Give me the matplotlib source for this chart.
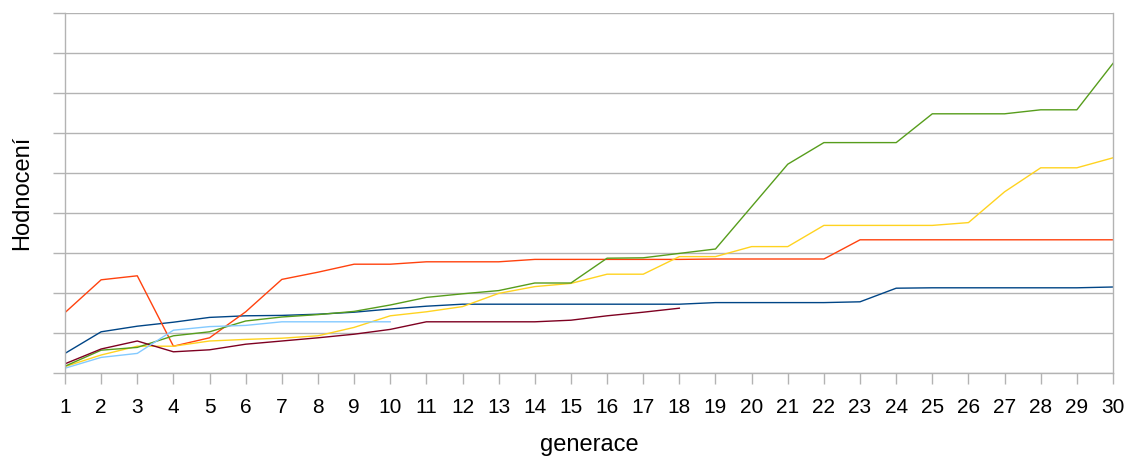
import matplotlib
matplotlib.use("Agg")
import matplotlib.pyplot as plt
import numpy as np

plt.rcParams['font.family'] = ['Liberation Sans', 'DejaVu Sans']

generace = list(range(1, 31))

# values (gridline units, no y labels in the original)
s_blue = [0.49, 1.03, 1.17, 1.27, 1.39, 1.43, 1.44, 1.47, 1.52, 1.60,
          1.67, 1.72, 1.72, 1.72, 1.72, 1.72, 1.72, 1.72, 1.76, 1.76,
          1.76, 1.76, 1.78, 2.12, 2.13, 2.13, 2.13, 2.13, 2.13, 2.15]
s_orange = [1.51, 2.33, 2.43, 0.67, 0.88, 1.53, 2.34, 2.52, 2.72, 2.72,
            2.78, 2.78, 2.78, 2.84, 2.84, 2.84, 2.84, 2.84, 2.85, 2.85,
            2.85, 2.85, 3.33, 3.33, 3.33, 3.33, 3.33, 3.33, 3.33, 3.33]
s_yellow = [0.16, 0.45, 0.67, 0.67, 0.80, 0.84, 0.87, 0.93, 1.14, 1.43,
            1.53, 1.66, 1.99, 2.16, 2.24, 2.47, 2.47, 2.91, 2.91, 3.16,
            3.16, 3.69, 3.69, 3.69, 3.69, 3.76, 4.53, 5.13, 5.13, 5.38]
s_green = [0.17, 0.57, 0.64, 0.93, 1.03, 1.30, 1.40, 1.46, 1.54, 1.70,
           1.89, 1.98, 2.06, 2.25, 2.25, 2.87, 2.88, 2.99, 3.10, 4.16,
           5.22, 5.76, 5.76, 5.76, 6.48, 6.48, 6.48, 6.58, 6.58, 7.74]
s_maroon = [0.23, 0.60, 0.80, 0.53, 0.58, 0.72, 0.80, 0.88, 0.97, 1.09,
            1.28, 1.28, 1.28, 1.28, 1.32, 1.43, 1.52, 1.62]
s_light = [0.12, 0.39, 0.49, 1.07, 1.16, 1.19, 1.28, 1.28, 1.28, 1.28]

series = [
    (s_blue, '#004586'),
    (s_orange, '#ff420e'),
    (s_yellow, '#ffd320'),
    (s_green, '#579d1c'),
    (s_maroon, '#7e0021'),
    (s_light, '#83caff'),
]

fig = plt.figure(figsize=(11.28, 4.59), dpi=100)
ax = fig.add_axes([65/1128, 1 - 373/459, 1048/1128, 360/459])

for vals, col in series:
    ax.plot(generace[:len(vals)], vals, color=col, linewidth=1.0)

ax.set_xlim(1, 30)
ax.set_ylim(0, 9)
ax.set_xticks(generace)
ax.set_yticks(np.arange(0, 10, 1))
ax.set_yticklabels([])
ax.yaxis.grid(True, color='#b3b3b3', linewidth=1.0)
ax.set_axisbelow(True)

for side in ['left', 'right', 'bottom', 'top']:
    ax.spines[side].set_color('#b3b3b3')
    ax.spines[side].set_linewidth(1.0)
ax.spines['top'].set_visible(False)

ax.tick_params(axis='x', direction='out', length=8, width=1.0, color='#b3b3b3',
               labelsize=15, pad=10)
ax.tick_params(axis='y', direction='out', length=8.6, width=1.0, color='#b3b3b3')

ax.set_xlabel('generace', fontsize=17, labelpad=12)
ax.set_ylabel('Hodnocení', fontsize=17, labelpad=11)

fig.savefig('out.png', dpi=100)
